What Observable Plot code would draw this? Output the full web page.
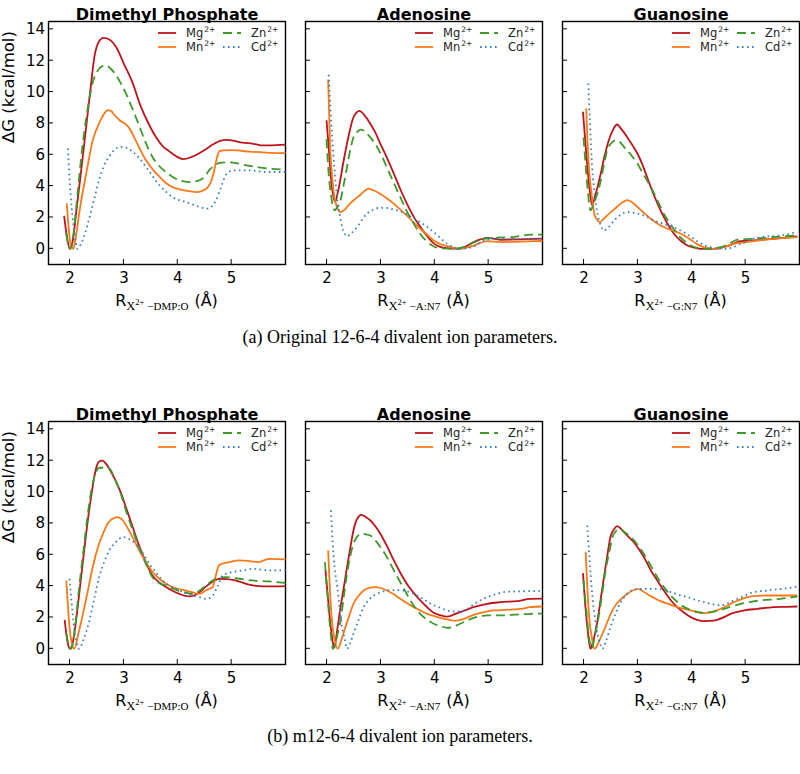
<!DOCTYPE html>
<html><head><meta charset="utf-8">
<script src="https://cdn.jsdelivr.net/npm/d3@7"></script>
<script src="https://cdn.jsdelivr.net/npm/@observablehq/plot@0.6"></script>
<style>
html,body{margin:0;padding:0;background:#fff;}
#fig{position:relative;width:800px;height:774px;overflow:hidden;background:#fff;}
.panel{position:absolute;}
.cap{position:absolute;left:0;width:800px;text-align:center;font-family:"Liberation Serif","Times New Roman",serif;font-size:18px;line-height:18px;color:#000;}
</style></head><body><div id="fig"></div>
<script>
const xTicks = [2, 3, 4, 5];
const yTicks = [0, 2, 4, 6, 8, 10, 12, 14];
const ions = ["Mg", "Mn", "Zn", "Cd"];
const panelTitles = ["Dimethyl Phosphate", "Adenosine", "Guanosine"];
const xSubscripts = ["−DMP:O", "−A:N7", "−G:N7"];
const yLabel = "ΔG (kcal/mol)";
const captions = ["(a) Original 12-6-4 divalent ion parameters.", "(b) m12-6-4 divalent ion parameters."];

// ---- (a) Original 12-6-4 : Dimethyl Phosphate
const oDmpMg = [[1.89,2.1],[1.95,0.6],[2.0,0],[2.05,0.5],[2.12,2.5],[2.2,4.8],[2.3,7.8],[2.38,10.2],[2.45,12.2],[2.52,13.1],[2.62,13.45],[2.7,13.4],[2.85,12.9],[3.0,11.8],[3.16,10.6],[3.3,9.2],[3.47,7.9],[3.6,7.1],[3.72,6.55],[3.85,6.2],[4.0,5.85],[4.1,5.72],[4.25,5.85],[4.4,6.1],[4.52,6.35],[4.65,6.65],[4.8,6.9],[4.9,6.95],[5.0,6.92],[5.2,6.78],[5.4,6.7],[5.55,6.6],[5.7,6.6],[6.0,6.65]];
const oDmpMn = [[1.94,2.9],[1.97,1.5],[2.0,0.5],[2.03,0.15],[2.06,0],[2.1,0.6],[2.18,2.5],[2.3,4.8],[2.42,6.9],[2.54,8.0],[2.63,8.6],[2.7,8.85],[2.76,8.8],[2.82,8.55],[2.92,8.2],[3.03,7.95],[3.1,7.7],[3.22,6.9],[3.41,5.65],[3.55,5.0],[3.66,4.6],[3.78,4.2],[3.9,3.94],[4.05,3.78],[4.2,3.68],[4.37,3.62],[4.47,3.72],[4.55,3.9],[4.62,4.3],[4.67,4.9],[4.72,5.7],[4.77,6.22],[4.85,6.28],[5.02,6.29],[5.33,6.2],[5.64,6.14],[6.0,6.1]];
const oDmpZn = [[1.93,1.0],[1.97,0.2],[2.0,0],[2.05,0.6],[2.12,2.8],[2.2,5.6],[2.27,7.6],[2.35,9.4],[2.42,10.6],[2.5,11.3],[2.6,11.65],[2.67,11.7],[2.75,11.5],[2.85,11.1],[2.95,10.5],[3.04,9.9],[3.15,9.0],[3.29,7.8],[3.4,6.8],[3.53,5.86],[3.65,5.3],[3.78,4.9],[3.9,4.6],[4.03,4.37],[4.21,4.26],[4.4,4.37],[4.5,4.6],[4.58,5.0],[4.68,5.3],[4.77,5.48],[4.9,5.52],[5.02,5.5],[5.27,5.33],[5.5,5.2],[5.75,5.1],[6.0,5.05]];
const oDmpCd = [[1.96,6.4],[1.99,4.5],[2.03,2.6],[2.08,1.1],[2.14,0],[2.2,0.3],[2.28,1.0],[2.36,2.0],[2.45,3.2],[2.54,4.4],[2.63,5.3],[2.73,5.9],[2.82,6.3],[2.92,6.5],[3.04,6.45],[3.16,6.2],[3.28,5.8],[3.41,5.22],[3.53,4.65],[3.66,4.05],[3.78,3.65],[3.9,3.3],[4.03,3.1],[4.15,2.99],[4.28,2.82],[4.4,2.67],[4.55,2.56],[4.63,2.7],[4.71,3.1],[4.8,3.9],[4.9,4.75],[5.02,5.0],[5.33,5.0],[5.64,4.9],[6.0,4.9]];
// ---- (a) Adenosine
const oAdeMg = [[1.99,8.2],[2.03,6.5],[2.07,4.6],[2.1,3.7],[2.15,3.0],[2.2,3.6],[2.31,5.65],[2.4,7.2],[2.48,8.3],[2.55,8.7],[2.6,8.8],[2.7,8.5],[2.8,8.0],[2.9,7.4],[2.99,6.7],[3.1,5.9],[3.24,4.8],[3.36,3.8],[3.48,2.9],[3.6,2.1],[3.73,1.4],[3.86,0.8],[3.98,0.35],[4.1,0.12],[4.23,0.04],[4.47,0],[4.6,0.2],[4.72,0.43],[4.85,0.6],[4.97,0.7],[5.1,0.65],[5.22,0.58],[5.5,0.6],[5.71,0.62],[6.0,0.65]];
const oAdeMn = [[2.02,10.8],[2.04,8.5],[2.06,6.3],[2.09,4.8],[2.12,3.7],[2.17,2.8],[2.25,2.35],[2.33,2.5],[2.43,2.9],[2.53,3.2],[2.62,3.45],[2.7,3.7],[2.77,3.84],[2.85,3.75],[2.99,3.5],[3.12,3.2],[3.24,2.88],[3.36,2.5],[3.48,2.13],[3.6,1.7],[3.73,1.28],[3.86,0.9],[3.98,0.53],[4.1,0.3],[4.23,0.17],[4.47,0],[4.72,0.21],[4.97,0.49],[5.22,0.43],[5.5,0.45],[5.71,0.47],[6.0,0.5]];
const oAdeZn = [[1.99,7.0],[2.03,4.8],[2.07,3.5],[2.11,2.7],[2.14,2.45],[2.18,2.6],[2.25,3.1],[2.31,4.1],[2.37,5.2],[2.43,6.3],[2.49,7.1],[2.56,7.45],[2.62,7.6],[2.68,7.55],[2.74,7.35],[2.84,6.95],[2.93,6.5],[3.02,5.9],[3.11,5.2],[3.24,4.2],[3.36,3.3],[3.48,2.4],[3.61,1.6],[3.73,0.95],[3.86,0.45],[3.98,0.15],[4.1,0.04],[4.35,0],[4.6,0.2],[4.72,0.4],[4.84,0.58],[5.09,0.7],[5.46,0.75],[5.77,0.9],[6.0,0.9]];
const oAdeCd = [[2.03,11.1],[2.06,9.2],[2.09,7.4],[2.14,5.0],[2.19,3.1],[2.24,2.1],[2.28,1.4],[2.33,0.95],[2.37,0.8],[2.45,1.0],[2.56,1.4],[2.65,1.85],[2.74,2.24],[2.86,2.5],[2.99,2.62],[3.12,2.6],[3.24,2.5],[3.36,2.38],[3.48,2.2],[3.6,1.95],[3.73,1.7],[3.86,1.4],[3.98,1.07],[4.1,0.7],[4.23,0.32],[4.35,0.1],[4.47,0],[4.6,0.05],[4.72,0.15],[4.85,0.4],[4.97,0.58],[5.22,0.64],[5.71,0.64],[6.0,0.65]];
// ---- (a) Guanosine
const oGuaMg = [[1.98,8.74],[2.02,7.0],[2.06,5.3],[2.1,3.9],[2.15,2.77],[2.2,3.3],[2.31,4.8],[2.38,5.9],[2.46,6.93],[2.54,7.6],[2.61,7.93],[2.7,7.6],[2.8,7.14],[2.9,6.6],[2.99,6.08],[3.08,5.4],[3.17,4.58],[3.3,3.4],[3.42,2.45],[3.55,1.6],[3.67,0.96],[3.8,0.5],[3.92,0.21],[4.05,0.07],[4.16,0],[4.41,0],[4.66,0.17],[4.91,0.49],[5.15,0.53],[5.52,0.64],[5.96,0.79]];
const oGuaMn = [[2.04,8.96],[2.06,7.2],[2.09,5.2],[2.14,3.5],[2.19,2.24],[2.24,1.85],[2.29,1.7],[2.36,1.9],[2.43,2.13],[2.52,2.4],[2.62,2.7],[2.71,2.95],[2.8,3.1],[2.88,3.0],[2.99,2.67],[3.11,2.3],[3.24,1.92],[3.36,1.62],[3.48,1.39],[3.6,1.22],[3.73,1.07],[3.86,0.85],[3.98,0.58],[4.1,0.3],[4.23,0.1],[4.47,0],[4.6,0.12],[4.78,0.32],[5.0,0.42],[5.15,0.49],[5.52,0.64],[5.96,0.75]];
const oGuaZn = [[1.99,7.1],[2.03,5.3],[2.07,3.7],[2.12,2.45],[2.18,2.9],[2.28,3.9],[2.36,5.2],[2.43,6.3],[2.51,6.75],[2.59,6.93],[2.67,6.8],[2.74,6.5],[2.87,6.0],[2.99,5.44],[3.11,4.7],[3.24,3.94],[3.36,3.1],[3.48,2.24],[3.61,1.55],[3.73,0.96],[3.86,0.5],[3.98,0.21],[4.1,0.06],[4.23,0],[4.54,0.1],[4.7,0.35],[4.85,0.58],[5.15,0.64],[5.52,0.75],[5.96,0.85]];
const oGuaCd = [[2.08,10.55],[2.11,8.0],[2.15,5.22],[2.2,3.4],[2.25,2.24],[2.31,1.5],[2.37,1.17],[2.45,1.35],[2.56,1.81],[2.65,2.1],[2.74,2.3],[2.84,2.35],[2.93,2.3],[3.05,2.2],[3.17,2.03],[3.3,1.8],[3.48,1.6],[3.65,1.4],[3.79,1.17],[3.95,0.85],[4.1,0.49],[4.22,0.25],[4.35,0.1],[4.66,0],[4.78,0.12],[4.91,0.32],[5.1,0.6],[5.28,0.75],[5.65,0.85],[5.96,1.07]];
// ---- (b) m12-6-4 : Dimethyl Phosphate
const mDmpMg = [[1.9,1.85],[1.95,0.5],[2.0,0],[2.05,0.4],[2.1,1.5],[2.17,3.5],[2.25,5.9],[2.33,8.2],[2.4,9.9],[2.45,10.96],[2.5,11.7],[2.54,11.95],[2.6,12.0],[2.67,11.8],[2.75,11.35],[2.85,10.7],[2.95,9.9],[3.04,9.0],[3.16,7.8],[3.29,6.5],[3.41,5.5],[3.53,4.68],[3.65,4.25],[3.78,3.94],[3.9,3.7],[4.03,3.5],[4.21,3.34],[4.3,3.4],[4.4,3.6],[4.5,3.9],[4.59,4.15],[4.68,4.35],[4.77,4.47],[4.9,4.45],[5.02,4.4],[5.15,4.28],[5.27,4.15],[5.51,4.0],[5.7,3.98],[6.0,4.0]];
const mDmpMn = [[1.93,4.36],[1.96,2.8],[1.99,1.38],[2.03,0.4],[2.08,0],[2.15,0.9],[2.24,2.23],[2.33,3.7],[2.42,5.2],[2.51,6.4],[2.61,7.34],[2.7,8.0],[2.82,8.35],[2.88,8.4],[2.98,8.2],[3.07,7.7],[3.16,7.13],[3.28,6.3],[3.41,5.53],[3.53,4.9],[3.66,4.47],[3.78,4.15],[3.9,3.94],[4.03,3.8],[4.15,3.72],[4.28,3.6],[4.4,3.5],[4.52,3.72],[4.6,3.85],[4.65,3.94],[4.7,4.6],[4.77,5.35],[4.85,5.45],[4.96,5.53],[5.14,5.64],[5.33,5.6],[5.51,5.53],[5.6,5.65],[5.7,5.74],[6.0,5.7]];
const mDmpZn = [[1.93,1.0],[1.97,0.3],[2.02,0],[2.08,1.0],[2.17,3.94],[2.25,6.3],[2.33,8.6],[2.4,10.2],[2.45,10.96],[2.5,11.4],[2.54,11.55],[2.65,11.55],[2.73,11.5],[2.8,11.1],[2.85,10.7],[2.95,9.8],[3.04,8.8],[3.16,7.6],[3.29,6.4],[3.41,5.4],[3.53,4.57],[3.65,4.2],[3.78,4.04],[3.9,3.85],[4.03,3.68],[4.15,3.58],[4.28,3.5],[4.4,3.7],[4.52,4.04],[4.62,4.3],[4.71,4.47],[4.8,4.55],[4.89,4.57],[5.14,4.47],[5.39,4.36],[5.7,4.3],[6.0,4.2]];
const mDmpCd = [[1.99,4.47],[2.02,3.3],[2.05,2.2],[2.08,1.17],[2.12,0.4],[2.17,0],[2.25,0.6],[2.36,1.8],[2.45,3.2],[2.54,4.57],[2.63,5.5],[2.73,6.28],[2.85,6.8],[2.98,7.13],[3.1,7.0],[3.22,6.7],[3.35,6.1],[3.47,5.43],[3.6,4.85],[3.72,4.36],[3.87,4.0],[4.03,3.72],[4.15,3.55],[4.28,3.4],[4.4,3.3],[4.52,3.19],[4.6,3.25],[4.65,3.4],[4.74,4.0],[4.83,4.68],[4.9,4.8],[5.02,4.89],[5.2,5.0],[5.39,5.1],[5.55,5.05],[5.7,5.0],[6.0,5.0]];
// ---- (b) Adenosine
const mAdeMg = [[1.97,5.0],[2.01,3.5],[2.05,2.0],[2.09,0.8],[2.12,0.2],[2.14,0.1],[2.18,1.0],[2.25,2.66],[2.31,3.9],[2.37,5.2],[2.43,6.4],[2.49,7.55],[2.56,8.3],[2.64,8.55],[2.72,8.4],[2.8,8.2],[2.9,7.8],[2.99,7.34],[3.12,6.5],[3.24,5.64],[3.36,4.85],[3.48,4.15],[3.6,3.6],[3.73,3.09],[3.86,2.65],[3.98,2.3],[4.1,2.15],[4.23,2.06],[4.35,2.18],[4.47,2.34],[4.6,2.5],[4.72,2.66],[4.85,2.77],[4.97,2.87],[5.22,2.98],[5.53,3.04],[5.77,3.19],[6.0,3.2]];
const mAdeMn = [[2.02,6.28],[2.05,4.0],[2.09,1.8],[2.14,0.6],[2.2,0],[2.27,0.6],[2.34,1.38],[2.41,2.1],[2.49,2.87],[2.58,3.35],[2.68,3.72],[2.8,3.9],[2.9,3.94],[3.0,3.88],[3.11,3.72],[3.24,3.48],[3.36,3.19],[3.48,2.92],[3.61,2.66],[3.73,2.45],[3.86,2.23],[3.98,2.1],[4.1,1.98],[4.23,1.88],[4.35,1.8],[4.45,1.82],[4.54,1.91],[4.66,2.08],[4.78,2.23],[4.94,2.35],[5.09,2.45],[5.3,2.48],[5.46,2.51],[5.6,2.55],[5.77,2.66],[6.0,2.7]];
const mAdeZn = [[1.96,5.53],[2.0,3.8],[2.04,2.0],[2.08,0.6],[2.11,0],[2.15,0.3],[2.2,1.0],[2.25,1.8],[2.31,3.3],[2.37,4.78],[2.43,5.9],[2.49,6.7],[2.57,7.2],[2.65,7.34],[2.72,7.3],[2.8,7.23],[2.9,6.9],[2.99,6.5],[3.12,5.8],[3.24,5.0],[3.36,4.25],[3.48,3.5],[3.6,2.8],[3.73,2.23],[3.86,1.85],[3.98,1.6],[4.1,1.45],[4.23,1.34],[4.35,1.42],[4.47,1.6],[4.6,1.8],[4.72,1.98],[4.85,2.08],[4.97,2.13],[5.22,2.13],[5.5,2.18],[5.77,2.23],[6.0,2.25]];
const mAdeCd = [[2.07,8.83],[2.1,7.0],[2.14,5.2],[2.19,3.94],[2.24,2.4],[2.28,1.38],[2.33,0.6],[2.37,0],[2.42,0.3],[2.49,0.96],[2.58,1.8],[2.68,2.66],[2.77,3.1],[2.87,3.4],[2.99,3.6],[3.11,3.72],[3.25,3.75],[3.42,3.72],[3.55,3.6],[3.67,3.4],[3.8,3.15],[3.92,2.87],[4.08,2.65],[4.23,2.45],[4.35,2.38],[4.47,2.38],[4.6,2.55],[4.72,2.83],[4.85,3.1],[4.97,3.3],[5.1,3.45],[5.28,3.62],[5.5,3.66],[5.77,3.68],[6.0,3.7]];
// ---- (b) Guanosine
const mGuaMg = [[1.98,4.83],[2.02,2.9],[2.06,1.4],[2.09,0.5],[2.12,0],[2.17,0.5],[2.25,1.8],[2.31,3.2],[2.37,4.57],[2.43,5.9],[2.49,7.13],[2.56,7.65],[2.62,7.83],[2.7,7.6],[2.8,7.23],[2.9,6.9],[2.99,6.5],[3.12,5.8],[3.24,5.0],[3.36,4.35],[3.48,3.72],[3.6,3.15],[3.73,2.66],[3.86,2.3],[3.98,2.02],[4.1,1.85],[4.23,1.77],[4.35,1.78],[4.47,1.85],[4.6,2.02],[4.72,2.23],[4.85,2.35],[4.97,2.45],[5.22,2.55],[5.52,2.66],[5.75,2.68],[5.96,2.7]];
const mGuaMn = [[2.03,6.17],[2.06,4.0],[2.09,2.23],[2.14,0.8],[2.2,0],[2.28,0.5],[2.37,1.17],[2.46,1.95],[2.56,2.66],[2.68,3.15],[2.8,3.5],[2.9,3.72],[2.99,3.83],[3.08,3.7],[3.17,3.5],[3.3,3.25],[3.42,3.04],[3.58,2.85],[3.73,2.66],[3.86,2.55],[3.98,2.45],[4.1,2.35],[4.23,2.28],[4.35,2.32],[4.47,2.45],[4.6,2.65],[4.72,2.87],[4.87,3.1],[5.03,3.3],[5.2,3.38],[5.4,3.4],[5.7,3.4],[5.96,3.4]];
const mGuaZn = [[1.99,4.36],[2.04,2.5],[2.09,0.8],[2.14,0],[2.2,0.8],[2.28,2.23],[2.34,3.6],[2.4,5.0],[2.47,6.2],[2.53,7.13],[2.59,7.5],[2.65,7.66],[2.75,7.45],[2.87,7.13],[2.99,6.65],[3.11,6.06],[3.24,5.3],[3.36,4.57],[3.48,3.95],[3.61,3.4],[3.73,3.0],[3.86,2.66],[3.98,2.48],[4.1,2.34],[4.23,2.3],[4.35,2.34],[4.47,2.42],[4.6,2.55],[4.75,2.72],[4.91,2.87],[5.1,3.0],[5.28,3.09],[5.65,3.19],[5.96,3.34]];
const mGuaCd = [[2.06,7.87],[2.1,5.8],[2.15,3.51],[2.2,2.0],[2.25,0.96],[2.3,0.3],[2.34,0],[2.4,0.4],[2.49,1.38],[2.58,2.2],[2.68,2.98],[2.77,3.4],[2.87,3.72],[2.99,3.8],[3.11,3.83],[3.36,3.83],[3.48,3.75],[3.61,3.62],[3.76,3.45],[3.92,3.3],[4.08,3.12],[4.23,2.98],[4.38,2.85],[4.54,2.77],[4.66,2.9],[4.78,3.09],[4.96,3.35],[5.15,3.62],[5.35,3.7],[5.52,3.77],[5.75,3.85],[5.96,3.98]];

const rows = [
  [[oDmpMg, oDmpMn, oDmpZn, oDmpCd], [oAdeMg, oAdeMn, oAdeZn, oAdeCd], [oGuaMg, oGuaMn, oGuaZn, oGuaCd]],
  [[mDmpMg, mDmpMn, mDmpZn, mDmpCd], [mAdeMg, mAdeMn, mAdeZn, mAdeCd], [mGuaMg, mGuaMn, mGuaZn, mGuaCd]]
];

// ---------- styling / layout ----------
const ionStyle = {
  Mg: {stroke: "#be141c", dash: null, cap: "butt"},
  Mn: {stroke: "#fb7a17", dash: null, cap: "butt"},
  Zn: {stroke: "#3c9a2a", dash: "9,5", cap: "butt"},
  Cd: {stroke: "#3a7fc6", dash: "1.6,3.4", cap: "butt"}
};
const X_DOMAIN = [1.6, 6.0], Y_DOMAIN = [-1, 14.5];
const FRAME_W = 237, FRAME_H = 243, M_TOP = 21, M_BOTTOM = 45;
const colFrameLeft = [48, 305, 562];
const rowTop = [0, 400];
const capBaseline = [342.5, 741.5];
const SANS = "DejaVu Sans, Verdana, sans-serif";
const SERIF = "Liberation Serif, Times New Roman, serif";

function decor(col) {
  return (index, scales, values, dim) => {
    const g = d3.create("svg:g");
    const left = dim.marginLeft, top = dim.marginTop;
    const bottom = dim.height - dim.marginBottom;
    // inward ticks (left + bottom)
    for (const t of xTicks) {
      const x = scales.x(t);
      g.append("line").attr("x1", x).attr("x2", x).attr("y1", bottom).attr("y2", bottom - 5)
        .attr("stroke", "#000").attr("stroke-width", 1);
    }
    for (const t of yTicks) {
      const y = scales.y(t);
      g.append("line").attr("x1", left).attr("x2", left + 5).attr("y1", y).attr("y2", y)
        .attr("stroke", "#000").attr("stroke-width", 1);
    }
    // legend (2 columns x 2 rows)
    const legendPos = [[0, 0], [0, 1], [1, 0], [1, 1]];
    ions.forEach((ion, i) => {
      const [c, r] = legendPos[i];
      const ly = top + 12 + r * 14;
      const lx = left + (c === 0 ? 110 : 175);
      const st = ionStyle[ion];
      const ln = g.append("line").attr("x1", lx).attr("x2", lx + 18).attr("y1", ly).attr("y2", ly)
        .attr("stroke", st.stroke).attr("stroke-width", 1.8);
      if (st.dash) ln.attr("stroke-dasharray", st.dash);
      const t = g.append("text").attr("x", lx + 28).attr("y", ly + 4).attr("text-anchor", "start")
        .attr("font-family", SANS).attr("font-size", 11.5).attr("fill", "#222").text(ion);
      t.append("tspan").attr("font-size", 7.5).attr("dy", -5).attr("dx", 1).text("2+");
    });
    // x-axis label with sub/superscripts
    const cx = left + (dim.width - dim.marginLeft - dim.marginRight) / 2;
    const lab = g.append("text").attr("x", cx).attr("y", bottom + 42)
      .attr("text-anchor", "middle").attr("font-family", SANS).attr("font-size", 16).attr("fill", "#000");
    lab.append("tspan").text("R");
    lab.append("tspan").attr("font-family", SERIF).attr("font-size", 12.5).attr("dy", 4).text("X");
    lab.append("tspan").attr("font-family", SERIF).attr("font-size", 8.5).attr("dy", -5).text("2+");
    lab.append("tspan").attr("font-family", SERIF).attr("font-size", 11).attr("dy", 5).attr("dx", 3).text(xSubscripts[col]);
    lab.append("tspan").attr("dy", -4).attr("dx", 6).text("(Å)");
    return g.node();
  };
}

const fig = d3.select("#fig");

rows.forEach((row, ri) => {
  row.forEach((seriesList, ci) => {
    const ml = ci === 0 ? 48 : 15;
    const mr = ci === 2 ? 1 : 3;
    const data = [];
    seriesList.forEach((pts, si) => pts.forEach(([x, y]) => data.push({ion: ions[si], x, y})));
    const marks = [
      Plot.frame({stroke: "#000", strokeWidth: 1.4}),
      Plot.axisX(xTicks, {tickSize: 0, tickPadding: 8, fontSize: 15, label: null}),
      ci === 0 ? Plot.axisY(yTicks, {tickSize: 0, tickPadding: 3.5, fontSize: 15, label: null}) : null,
      ...ions.map(ion => Plot.line(data.filter(d => d.ion === ion), {
        x: "x", y: "y", stroke: ionStyle[ion].stroke, strokeWidth: 1.8,
        strokeDasharray: ionStyle[ion].dash, strokeLinecap: ionStyle[ion].cap, curve: "monotone-x"
      })),
      Plot.text([panelTitles[ci]], {frameAnchor: "top", dy: -13, fontSize: 16, fontWeight: "bold", fill: "#000"}),
      ci === 0 ? Plot.text([yLabel], {frameAnchor: "left", dx: -40, rotate: -90, fontSize: 16.5, fill: "#000"}) : null,
      decor(ci)
    ].filter(Boolean);
    const chart = Plot.plot({
      width: ml + FRAME_W + mr,
      height: M_TOP + FRAME_H + M_BOTTOM,
      marginLeft: ml, marginRight: mr, marginTop: M_TOP, marginBottom: M_BOTTOM,
      style: {fontFamily: SANS, fontSize: "15px", background: "transparent", color: "#000", overflow: "visible"},
      x: {domain: X_DOMAIN, axis: null},
      y: {domain: Y_DOMAIN, axis: null},
      marks
    });
    fig.append("div").attr("class", "panel")
      .style("left", (colFrameLeft[ci] - ml) + "px").style("top", rowTop[ri] + "px")
      .node().appendChild(chart);
  });
  fig.append("div").attr("class", "cap").style("top", (capBaseline[ri] - 15) + "px").text(captions[ri]);
});
</script>
</body></html>
